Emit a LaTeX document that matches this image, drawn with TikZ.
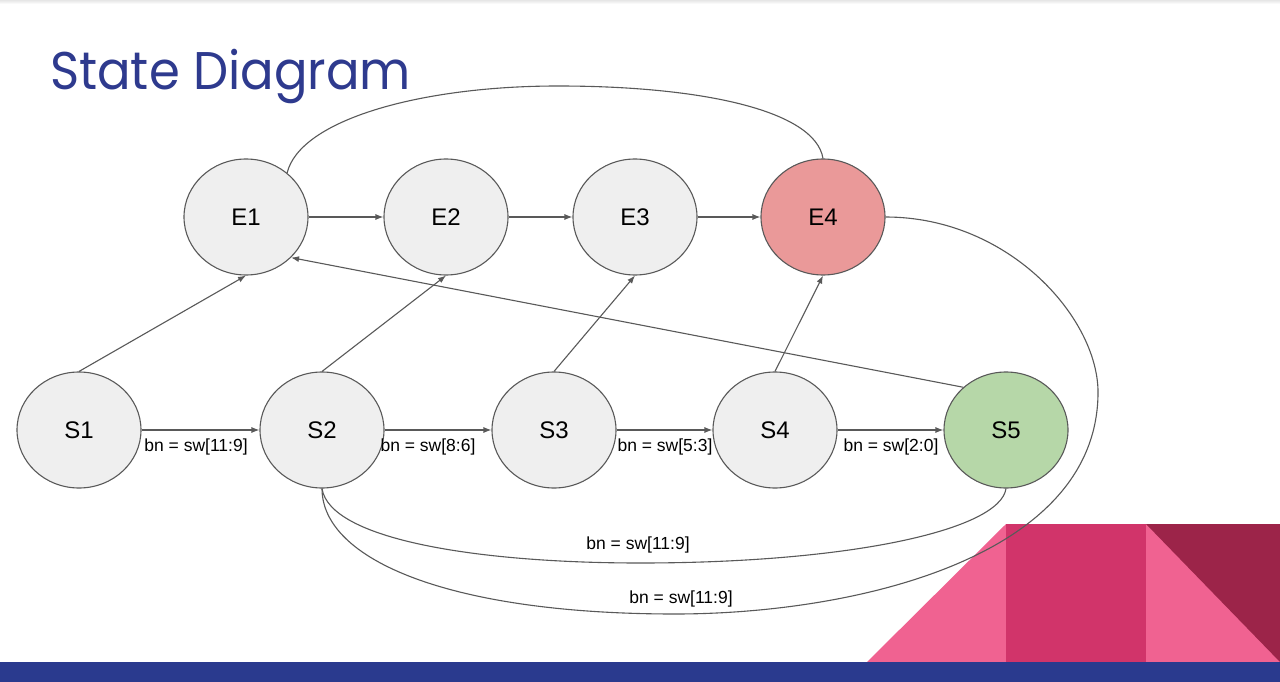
\documentclass[tikz,border=0pt]{standalone}
\usepackage{fontspec}
\setmainfont{Liberation Sans}
\newfontfamily\titlefont{Poppins}
\usetikzlibrary{shapes.geometric,arrows.meta}
\definecolor{ln}{HTML}{595959}
\definecolor{greyfill}{HTML}{EFEFEF}
\definecolor{redfill}{HTML}{EA9999}
\definecolor{greenfill}{HTML}{B6D7A8}
\definecolor{titleblue}{HTML}{2E3A8E}
\definecolor{barblue}{HTML}{2A3A8E}
\definecolor{pinklight}{HTML}{F06291}
\definecolor{pinkmid}{HTML}{D1346A}
\definecolor{pinkdark}{HTML}{9C2449}
\begin{document}
\begin{tikzpicture}[x=1pt,y=-1pt,
  st/.style={ellipse,draw=ln,line width=1.1pt,fill=greyfill,minimum width=124pt,minimum height=116pt,inner sep=0pt,font=\fontsize{24}{28}\selectfont},
  arr/.style={draw=ln,line width=1.1pt,-{Latex[length=8pt,width=6pt]}},
  con/.style={draw=ln,line width=1.1pt},
  lab/.style={font=\fontsize{17.5}{20}\selectfont,inner sep=1pt,text=black}]
\useasboundingbox (0,0) rectangle (1280,682);
\fill[white] (0,0) rectangle (1280,682);
\shade[top color=black!10,bottom color=white] (0,0) rectangle (1280,4);
% decoration
\fill[pinklight] (867,662) -- (1006,524) -- (1006,662) -- cycle;
\fill[pinkmid] (1006,524) rectangle (1146,662);
\fill[pinklight] (1146,524) rectangle (1280,662);
\fill[pinkdark] (1146,524) -- (1280,524) -- (1280,662) -- cycle;
\fill[barblue] (0,662) rectangle (1280,682);
% title
\node[anchor=base west,inner sep=0pt,text=titleblue,font=\titlefont\fontsize{53}{60}\selectfont] (title) at (50,90) {\scalebox{0.937}[1]{State Diagram}};
% states
\node[st] (E1) at (246,217) {E1};
\node[st] (E2) at (446,217) {E2};
\node[st] (E3) at (635,217) {E3};
\node[st,fill=redfill] (E4) at (823,217) {E4};
\node[st] (S1) at (79,430) {S1};
\node[st] (S2) at (322,430) {S2};
\node[st] (S3) at (554,430) {S3};
\node[st] (S4) at (775,430) {S4};
\node[st,fill=greenfill] (S5) at (1006,430) {S5};
% horizontal arrows
\draw[arr] (E1.east) -- (E2.west);
\draw[arr] (E2.east) -- (E3.west);
\draw[arr] (E3.east) -- (E4.west);
\draw[arr] (S1.east) -- (S2.west);
\draw[arr] (S2.east) -- (S3.west);
\draw[arr] (S3.east) -- (S4.west);
\draw[arr] (S4.east) -- (S5.west);
% diagonal arrows
\draw[arr] (S1.north) -- (E1.south);
\draw[arr] (S2.north) -- (E2.south);
\draw[arr] (S3.north) -- (E3.south);
\draw[arr] (S4.north) -- (E4.south);
\draw[arr] (S5.135) -- (E1.-42);
% E1 - E4 arc
\draw[con] (E1.47) .. controls (300,120) and (420,86) .. (558,86) .. controls (700,86) and (815,110) .. (E4.north);
% E4 -> S2 outer curve
\draw[con] (E4.east) .. controls (1010,217) and (1100,320) .. (1098,395) .. controls (1095,560) and (850,614) .. (675,614) .. controls (450,614) and (322,560) .. (S2.south);
% S5 -> S2 inner curve
\draw[con] (S5.south) .. controls (1000,530) and (850,563) .. (640,563) .. controls (480,563) and (330,540) .. (S2.south);
% labels
\node[lab] (l1) at (196,447) {bn = sw[11:9]};
\node[lab] (l2) at (428,447) {bn = sw[8:6]};
\node[lab] (l3) at (665,447) {bn = sw[5:3]};
\node[lab] (l4) at (891,447) {bn = sw[2:0]};
\node[lab] (l5) at (638,545) {bn = sw[11:9]};
\node[lab] (l6) at (681,599) {bn = sw[11:9]};
\end{tikzpicture}
\end{document}
